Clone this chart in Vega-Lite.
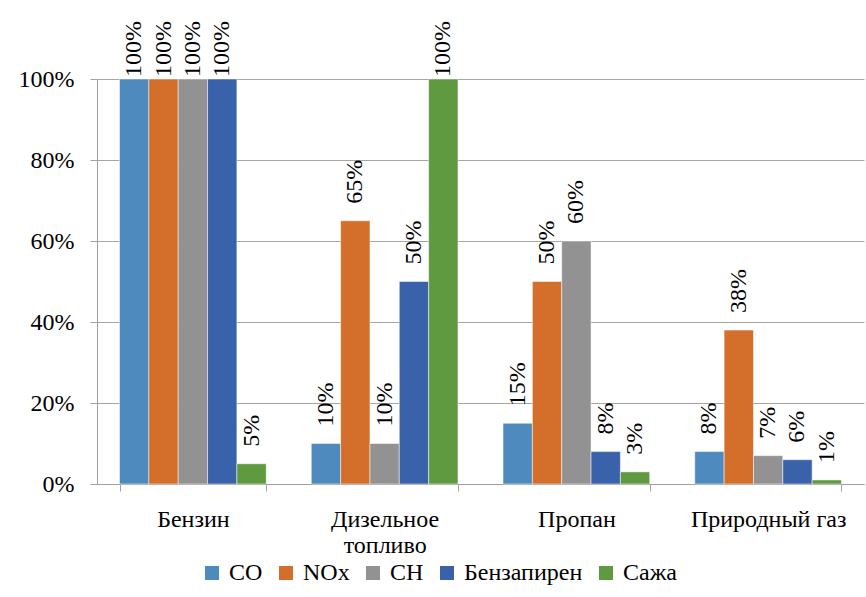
{
  "$schema": "https://vega.github.io/schema/vega-lite/v6.json",
  "width": 767,
  "height": 405,
  "autosize": {"type": "none"},
  "padding": {"left": 97, "top": 79, "right": 2, "bottom": 113},
  "background": "white",
  "config": {
    "font": "Liberation Serif",
    "view": {"stroke": null},
    "axis": {"labelFont": "Liberation Serif"},
    "legend": {"labelFont": "Liberation Serif"},
    "text": {"font": "Liberation Serif"}
  },
  "data": {
    "values": [
      {"fuel": "Бензин", "pollutant": "CO", "value": 1.0},
      {"fuel": "Бензин", "pollutant": "NOx", "value": 1.0},
      {"fuel": "Бензин", "pollutant": "CH", "value": 1.0},
      {"fuel": "Бензин", "pollutant": "Бензапирен", "value": 1.0},
      {"fuel": "Бензин", "pollutant": "Сажа", "value": 0.05},
      {"fuel": "Дизельное топливо", "pollutant": "CO", "value": 0.10},
      {"fuel": "Дизельное топливо", "pollutant": "NOx", "value": 0.65},
      {"fuel": "Дизельное топливо", "pollutant": "CH", "value": 0.10},
      {"fuel": "Дизельное топливо", "pollutant": "Бензапирен", "value": 0.50},
      {"fuel": "Дизельное топливо", "pollutant": "Сажа", "value": 1.0},
      {"fuel": "Пропан", "pollutant": "CO", "value": 0.15},
      {"fuel": "Пропан", "pollutant": "NOx", "value": 0.50},
      {"fuel": "Пропан", "pollutant": "CH", "value": 0.60},
      {"fuel": "Пропан", "pollutant": "Бензапирен", "value": 0.08},
      {"fuel": "Пропан", "pollutant": "Сажа", "value": 0.03},
      {"fuel": "Природный газ", "pollutant": "CO", "value": 0.08},
      {"fuel": "Природный газ", "pollutant": "NOx", "value": 0.38},
      {"fuel": "Природный газ", "pollutant": "CH", "value": 0.07},
      {"fuel": "Природный газ", "pollutant": "Бензапирен", "value": 0.06},
      {"fuel": "Природный газ", "pollutant": "Сажа", "value": 0.01}
    ]
  },
  "encoding": {
    "x": {
      "field": "fuel",
      "type": "nominal",
      "sort": ["Бензин", "Дизельное топливо", "Пропан", "Природный газ"],
      "scale": {"paddingInner": 0.235, "paddingOuter": 0.1175},
      "axis": {
        "title": null,
        "labelAngle": 0,
        "labelFont": "Liberation Serif",
        "labelFontSize": 24,
        "labelColor": "black",
        "labelPadding": 16,
        "labelLineHeight": 26,
        "labelExpr": "datum.value == 'Дизельное топливо' ? ['Дизельное', 'топливо'] : datum.value",
        "tickBand": "extent",
        "tickSize": 7,
        "tickColor": "#a0a0a0",
        "domainColor": "#a0a0a0",
        "grid": false
      }
    },
    "xOffset": {
      "field": "pollutant",
      "type": "nominal",
      "sort": ["CO", "NOx", "CH", "Бензапирен", "Сажа"],
      "scale": {"paddingInner": 0, "paddingOuter": 0}
    },
    "y": {
      "field": "value",
      "type": "quantitative",
      "scale": {"domain": [0, 1], "nice": false},
      "axis": {
        "title": null,
        "values": [0, 0.2, 0.4, 0.6, 0.8, 1],
        "format": ".0%",
        "labelFont": "Liberation Serif",
        "labelFontSize": 24,
        "labelColor": "black",
        "labelPadding": 16,
        "tickSize": 7,
        "tickColor": "#a0a0a0",
        "domainColor": "#a0a0a0",
        "gridColor": "#a6a6a6",
        "gridWidth": 1
      }
    }
  },
  "layer": [
    {
      "mark": {"type": "bar", "stroke": "white", "strokeWidth": 0.5},
      "encoding": {
        "color": {
          "field": "pollutant",
          "type": "nominal",
          "sort": ["CO", "NOx", "CH", "Бензапирен", "Сажа"],
          "scale": {
            "domain": ["CO", "NOx", "CH", "Бензапирен", "Сажа"],
            "range": ["#4e8abe", "#d36f2b", "#929292", "#3a62ab", "#5f9a40"]
          },
          "legend": {
            "title": null,
            "orient": "none",
            "direction": "horizontal",
            "legendX": 103,
            "legendY": 482,
            "symbolType": "square",
            "symbolSize": 196,
            "symbolStrokeWidth": 0,
            "labelFont": "Liberation Serif",
            "labelFontSize": 24,
            "labelColor": "black",
            "labelOffset": 5,
            "columnPadding": 11
          }
        }
      }
    },
    {
      "transform": [{"filter": "datum.value < 1"}],
      "mark": {"type": "text", "angle": 270, "align": "left", "baseline": "middle", "dx": 17, "font": "Liberation Serif", "fontSize": 24, "color": "black"},
      "encoding": {"text": {"field": "value", "type": "quantitative", "format": ".0%"}}
    },
    {
      "transform": [{"filter": "datum.value >= 1"}],
      "mark": {"type": "text", "angle": 270, "align": "left", "baseline": "middle", "dx": 2, "font": "Liberation Serif", "fontSize": 24, "color": "black"},
      "encoding": {"text": {"field": "value", "type": "quantitative", "format": ".0%"}}
    }
  ]
}
